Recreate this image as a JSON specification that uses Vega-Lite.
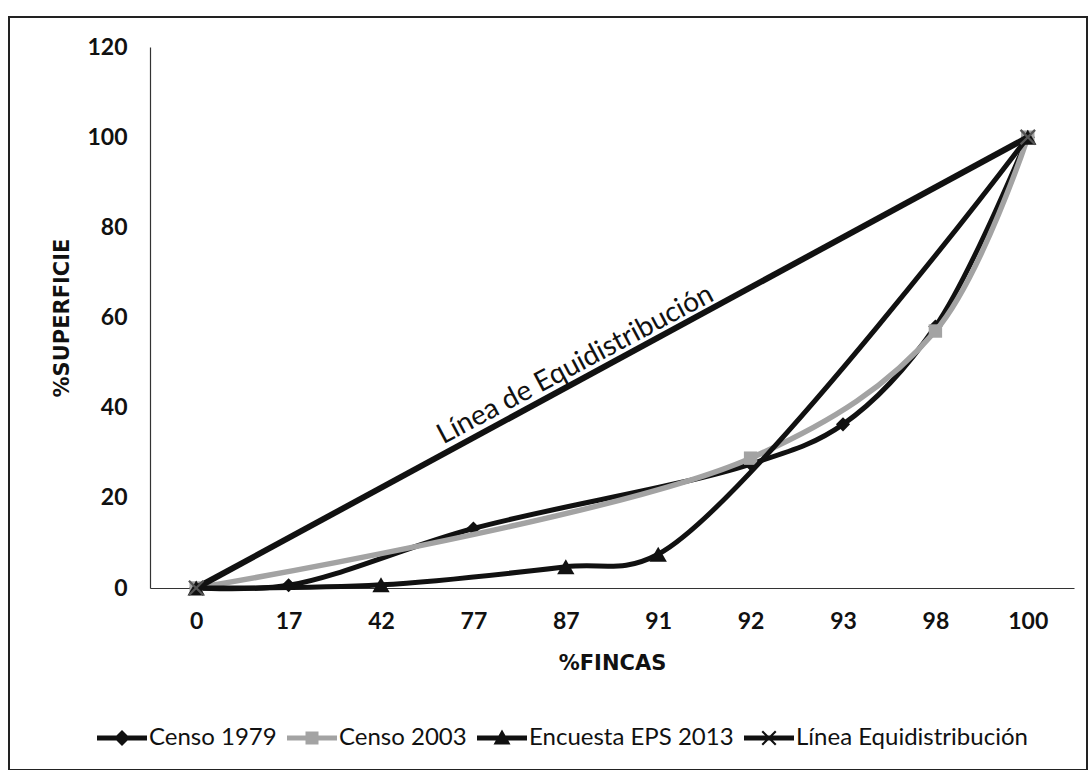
{
  "$schema": "https://vega.github.io/schema/vega-lite/v6.json",
  "autosize": "none",
  "padding": {"left": 9, "top": 17, "right": 3, "bottom": 0},
  "width": 1078,
  "height": 753,
  "background": "white",
  "config": {
    "view": {"stroke": "#222222", "strokeWidth": 2},
    "font": "Lato",
    "axis": {"grid": false, "ticks": false, "domainColor": "#333333", "domainWidth": 1.2, "labelFont": "Lato", "labelFontWeight": "bold", "labelFontSize": 23, "labelColor": "#111111", "titleFont": "DejaVu Sans", "titleFontWeight": "bold", "titleFontSize": 21, "titleColor": "#111111"}
  },
  "datasets": {
    "curves": [
      {"series": "Censo 1979", "fincas": "0", "superficie": 0},
      {"series": "Censo 1979", "fincas": "17", "superficie": 0.6},
      {"series": "Censo 1979", "fincas": "77", "superficie": 13.2},
      {"series": "Censo 1979", "fincas": "92", "superficie": 27.5},
      {"series": "Censo 1979", "fincas": "93", "superficie": 36.3},
      {"series": "Censo 1979", "fincas": "98", "superficie": 58},
      {"series": "Censo 1979", "fincas": "100", "superficie": 100},
      {"series": "Censo 2003", "fincas": "0", "superficie": 0},
      {"series": "Censo 2003", "fincas": "92", "superficie": 28.8},
      {"series": "Censo 2003", "fincas": "98", "superficie": 57},
      {"series": "Censo 2003", "fincas": "100", "superficie": 100},
      {"series": "Encuesta EPS 2013", "fincas": "0", "superficie": 0},
      {"series": "Encuesta EPS 2013", "fincas": "42", "superficie": 0.7},
      {"series": "Encuesta EPS 2013", "fincas": "87", "superficie": 4.7},
      {"series": "Encuesta EPS 2013", "fincas": "91", "superficie": 7.5},
      {"series": "Encuesta EPS 2013", "fincas": "100", "superficie": 100},
      {"series": "Línea Equidistribución", "fincas": "0", "superficie": 0},
      {"series": "Línea Equidistribución", "fincas": "100", "superficie": 100}
    ],
    "annot": [
      {"label": "Línea de Equidistribución", "fincas": "87", "superficie": 48.3}
    ]
  },
  "data": {"name": "curves"},
  "encoding": {
    "x": {"field": "fincas", "type": "ordinal", "sort": ["0","17","42","77","87","91","92","93","98","100"],
      "scale": {"domain": ["0","17","42","77","87","91","92","93","98","100"], "range": [141, 1065], "paddingInner": 0, "paddingOuter": 0},
      "axis": {"title": "%FINCAS", "labelAngle": 0, "offset": -182, "labelPadding": 22, "titlePadding": 19}},
    "y": {"field": "superficie", "type": "quantitative",
      "scale": {"domain": [0, 120], "range": [571, 30], "nice": false},
      "axis": {"title": "%SUPERFICIE", "values": [0,20,40,60,80,100,120], "offset": -141, "labelPadding": 23, "titlePadding": 14}}
  },
  "layer": [
    {"transform": [{"filter": "datum.series === 'Censo 1979'"}],
     "mark": {"type": "line", "interpolate": "catmull-rom", "color": "#111111", "strokeWidth": 5}},
    {"transform": [{"filter": "datum.series === 'Censo 1979'"}],
     "mark": {"type": "point", "shape": "diamond", "filled": true, "opacity": 1, "color": "#111111", "size": 200}},
    {"transform": [{"filter": "datum.series === 'Censo 2003'"}],
     "mark": {"type": "line", "interpolate": "catmull-rom", "color": "#a3a3a3", "strokeWidth": 5.5}},
    {"transform": [{"filter": "datum.series === 'Censo 2003'"}],
     "mark": {"type": "point", "shape": "square", "filled": true, "opacity": 1, "color": "#a3a3a3", "size": 180}},
    {"transform": [{"filter": "datum.series === 'Encuesta EPS 2013'"}],
     "mark": {"type": "line", "interpolate": "catmull-rom", "color": "#111111", "strokeWidth": 5}},
    {"transform": [{"filter": "datum.series === 'Encuesta EPS 2013'"}],
     "mark": {"type": "point", "shape": "triangle-up", "filled": true, "opacity": 1, "color": "#111111", "size": 300}},
    {"transform": [{"filter": "datum.series === 'Línea Equidistribución'"}],
     "mark": {"type": "line", "interpolate": "catmull-rom", "color": "#111111", "strokeWidth": 6}},
    {"transform": [{"filter": "datum.series === 'Línea Equidistribución'"}],
     "mark": {"type": "point", "shape": "M-1,-0.8L-0.8,-1L0,-0.2L0.8,-1L1,-0.8L0.2,0L1,0.8L0.8,1L0,0.2L-0.8,1L-1,0.8L-0.2,0Z", "filled": true, "opacity": 1, "color": "#555555", "size": 260}},
    {"transform": [{"filter": "false"}],
     "mark": {"type": "point", "filled": true, "opacity": 1},
     "encoding": {
       "color": {"field": "series", "type": "nominal",
         "scale": {"domain": ["Censo 1979","Censo 2003","Encuesta EPS 2013","Línea Equidistribución"], "range": ["#111111","#a3a3a3","#111111","#111111"]},
         "legend": {"title": null, "orient": "none", "legendX": 88, "legendY": 696, "direction": "horizontal", "symbolSize": 2500, "symbolStrokeWidth": 0, "symbolOpacity": 1, "labelFont": "Lato", "labelFontSize": 24, "labelColor": "#111111", "labelOffset": 2, "labelLimit": 0, "columnPadding": 10}},
       "shape": {"field": "series", "type": "nominal",
         "scale": {"domain": ["Censo 1979","Censo 2003","Encuesta EPS 2013","Línea Equidistribución"], "range": [
           "M-1,-0.1L1,-0.1L1,0.1L-1,0.1Z M0,-0.32L0.32,0L0,0.32L-0.32,0Z",
           "M-1,-0.1L1,-0.1L1,0.1L-1,0.1Z M-0.26,-0.26L0.26,-0.26L0.26,0.26L-0.26,0.26Z",
           "M-1,-0.1L1,-0.1L1,0.1L-1,0.1Z M0,-0.34L0.34,0.26L-0.34,0.26Z",
           "M-1,-0.1L1,-0.1L1,0.1L-1,0.1Z M-0.3,-0.24L-0.24,-0.3L0,-0.06L0.24,-0.3L0.3,-0.24L0.06,0L0.3,0.24L0.24,0.3L0,0.06L-0.24,0.3L-0.3,0.24L-0.06,0Z"]},
         "legend": {"title": null, "orient": "none", "legendX": 88, "legendY": 696, "direction": "horizontal", "symbolSize": 2500, "symbolStrokeWidth": 0, "symbolOpacity": 1, "labelFont": "Lato", "labelFontSize": 24, "labelColor": "#111111", "labelOffset": 2, "labelLimit": 0, "columnPadding": 10}}
     }},
    {
      "data": {"name": "annot"},
      "mark": {"type": "text", "angle": -28, "align": "center", "baseline": "middle", "dx": 11, "fontSize": 28, "font": "Lato", "color": "#111111"},
      "encoding": {
        "text": {"field": "label"}
      }
    }
  ]
}
